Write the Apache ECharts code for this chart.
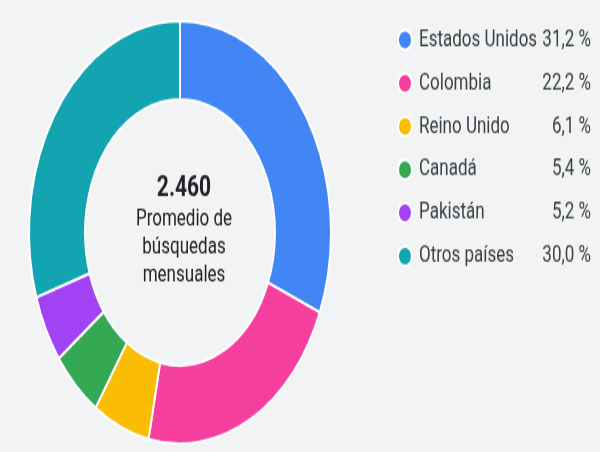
<!DOCTYPE html>
<html><head><meta charset="utf-8">
<script src="https://cdn.jsdelivr.net/npm/echarts@6/dist/echarts.min.js"></script>
<style>html,body{margin:0;padding:0;background:#f1f3f4;height:452px}#c{width:600px;height:323px;transform:scaleY(1.4);transform-origin:0 0}</style>
</head><body><div id="c"></div>
<script>
const categories = ['Estados Unidos','Colombia','Reino Unido','Canadá','Pakistán','Otros países'];
const values = [31.2,22.2,6.1,5.4,5.2,30.0];
const labels = ['31,2 %','22,2 %','6,1 %','5,4 %','5,2 %','30,0 %'];
const colors = ['#4285f4','#f43f9e','#fbbc04','#34a853','#a142f4','#12a4b0'];
const chart = echarts.init(document.getElementById('c'));
chart.setOption({
  backgroundColor:'#f1f3f4',
  color: colors,
  title:{text:'2.460',subtext:'Promedio de\nbúsquedas\nmensuales',left:179,top:119,textAlign:'center',
    textStyle:{fontFamily:'Roboto',fontSize:21,fontWeight:'bold',color:'#202124'},
    subtextStyle:{fontFamily:'Roboto',fontSize:17,color:'#202124',lineHeight:20},itemGap:2},
  legend:{orient:'vertical',left:392,top:15,itemGap:13.9,icon:'circle',itemWidth:18,itemHeight:14,
    data:categories,
    formatter:n=>'{a|'+n+'}{b|'+labels[categories.indexOf(n)]+'}',
    textStyle:{fontFamily:'Roboto',fontSize:17,color:'#3c4043',
      rich:{a:{width:118,fontSize:17,fontFamily:'Roboto',color:'#3c4043'},b:{width:54,align:'right',fontSize:17,fontFamily:'Roboto',color:'#3c4043'}}}},
  series:[{type:'pie',center:[180,166],radius:[95,151],startAngle:90,clockwise:true,
    label:{show:false},labelLine:{show:false},silent:true,
    itemStyle:{borderColor:'#ffffff',borderWidth:2},
    data:categories.map((n,i)=>({name:n,value:values[i]}))}]
});
</script></body></html>
